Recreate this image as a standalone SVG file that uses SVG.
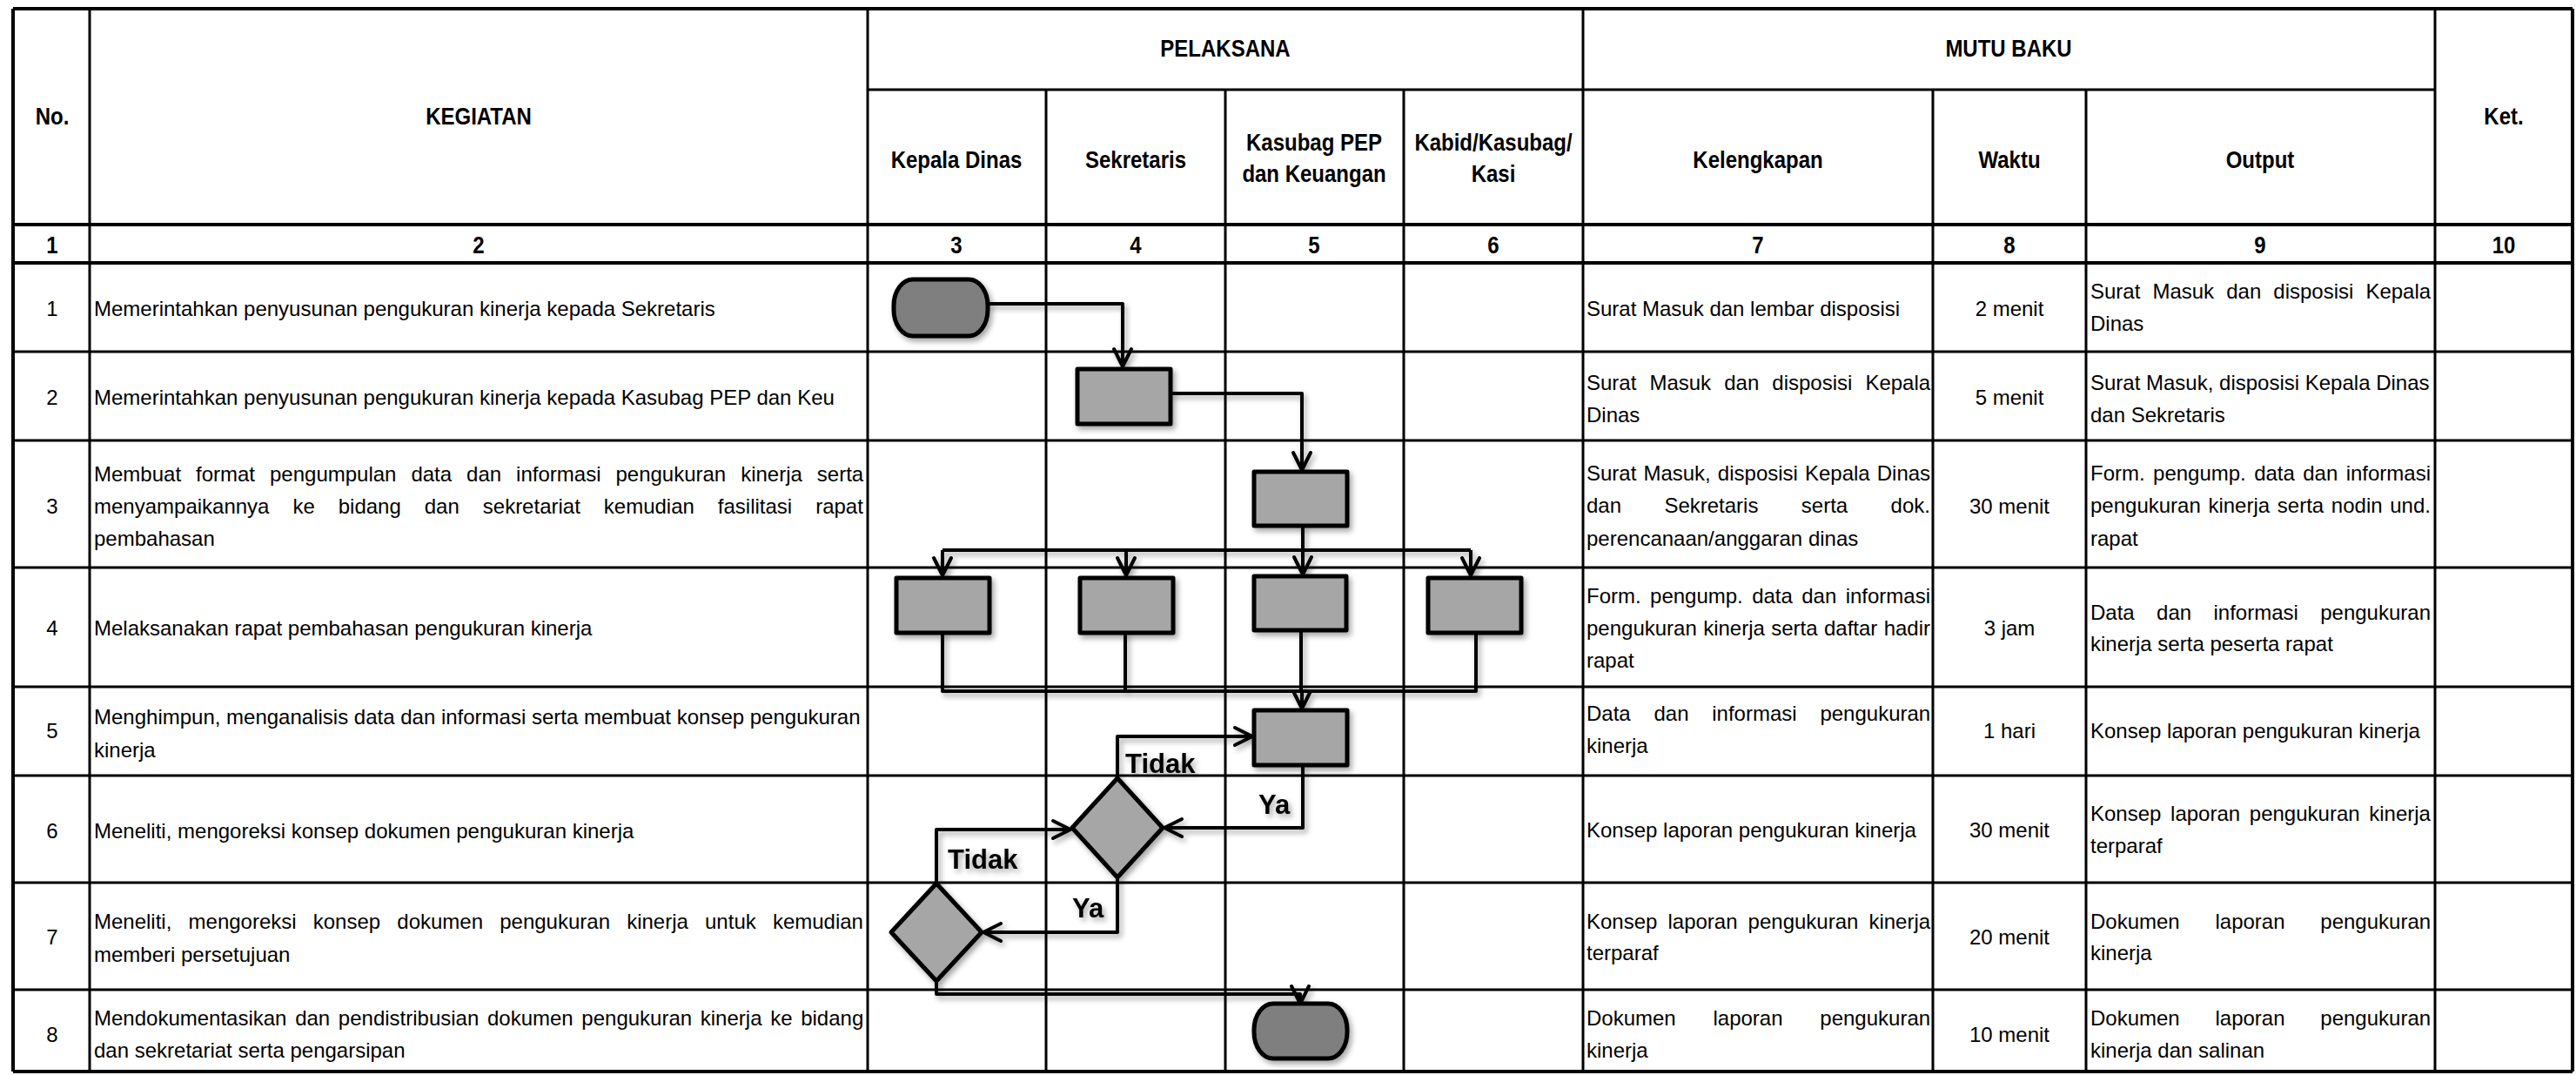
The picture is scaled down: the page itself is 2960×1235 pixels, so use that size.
<svg xmlns="http://www.w3.org/2000/svg" width="2960" height="1235" viewBox="0 0 2960 1235">
<defs>
<style>
.grid{stroke:#000;stroke-width:3;fill:none}
.thick{stroke:#000;stroke-width:4;fill:none}
.t{font-family:"Liberation Sans",Arial,sans-serif;font-size:24px;fill:#000}
.h{font-family:"Liberation Sans",Arial,sans-serif;font-size:28px;font-weight:bold;fill:#000;text-anchor:middle}
.c{text-anchor:middle}
.box{fill:#a6a6a6;stroke:#000;stroke-width:5;stroke-linejoin:round}
.term{fill:#7f7f7f;stroke:#000;stroke-width:5}
.conn{stroke:#000;stroke-width:4;fill:none;stroke-linejoin:round}
.arr{marker-end:url(#arr)}
.lbl{font-family:"Liberation Sans",Arial,sans-serif;font-size:31px;font-weight:bold;fill:#000}
</style>
<marker id="arr" viewBox="0 0 24 24" refX="22" refY="12" markerWidth="24" markerHeight="24" markerUnits="userSpaceOnUse" orient="auto" overflow="visible">
<path d="M2,2 L22,12 L2,22" fill="none" stroke="#000" stroke-width="4" stroke-linecap="round" stroke-linejoin="round"/>
</marker>
<filter id="sh" x="-20%" y="-20%" width="150%" height="150%">
<feDropShadow dx="3" dy="4" stdDeviation="3" flood-color="#000" flood-opacity="0.35"/>
</filter>
</defs>
<rect x="0" y="0" width="2960" height="1235" fill="#fff"/>

<g id="table-grid">
<path class="grid" d="M997 103H2798 M15 404H2956 M15 506H2956 M15 652H2956 M15 789H2956 M15 891H2956 M15 1014H2956 M15 1137H2956
M103 10V1231 M997 10V1231 M1202 103V1231 M1408 103V1231 M1613 103V1231 M1819 10V1231 M2221 103V1231 M2397 103V1231 M2798 10V1231"/>
<path class="thick" d="M15 10H2956 M15 258H2956 M15 302H2956 M15 1231H2956 M15 10V1231 M2956 10V1231"/>
</g>

<g id="table-header" class="h">
<text transform="translate(60,143) scale(0.857,1)">No.</text>
<text transform="translate(550,143) scale(0.857,1)">KEGIATAN</text>
<text transform="translate(1408,65) scale(0.857,1)">PELAKSANA</text>
<text transform="translate(2308,65) scale(0.857,1)">MUTU BAKU</text>
<text transform="translate(2877,143) scale(0.857,1)">Ket.</text>
<text transform="translate(1099,193) scale(0.857,1)">Kepala Dinas</text>
<text transform="translate(1305,193) scale(0.857,1)">Sekretaris</text>
<text transform="translate(1510,173) scale(0.857,1)">Kasubag PEP</text>
<text transform="translate(1510,209) scale(0.857,1)">dan Keuangan</text>
<text transform="translate(1716,173) scale(0.857,1)">Kabid/Kasubag/</text>
<text transform="translate(1716,209) scale(0.857,1)">Kasi</text>
<text transform="translate(2020,193) scale(0.857,1)">Kelengkapan</text>
<text transform="translate(2309,193) scale(0.857,1)">Waktu</text>
<text transform="translate(2597,193) scale(0.857,1)">Output</text>
<text transform="translate(60,291) scale(0.857,1)">1</text>
<text transform="translate(550,291) scale(0.857,1)">2</text>
<text transform="translate(1099,291) scale(0.857,1)">3</text>
<text transform="translate(1305,291) scale(0.857,1)">4</text>
<text transform="translate(1510,291) scale(0.857,1)">5</text>
<text transform="translate(1716,291) scale(0.857,1)">6</text>
<text transform="translate(2020,291) scale(0.857,1)">7</text>
<text transform="translate(2309,291) scale(0.857,1)">8</text>
<text transform="translate(2597,291) scale(0.857,1)">9</text>
<text transform="translate(2877,291) scale(0.857,1)">10</text>
</g>

<g id="col-no" class="t c">
<text x="60" y="363">1</text>
<text x="60" y="465">2</text>
<text x="60" y="590">3</text>
<text x="60" y="730">4</text>
<text x="60" y="848">5</text>
<text x="60" y="963">6</text>
<text x="60" y="1085">7</text>
<text x="60" y="1197">8</text>
</g>

<g id="col-kegiatan" class="t">
<text x="108" y="363">Memerintahkan penyusunan pengukuran kinerja kepada Sekretaris</text>
<text x="108" y="465">Memerintahkan penyusunan pengukuran kinerja kepada Kasubag PEP dan Keu</text>
<text x="108" y="553" style="word-spacing:10.3px">Membuat format pengumpulan data dan informasi pengukuran kinerja serta</text>
<text x="108" y="590" style="word-spacing:20.3px">menyampaikannya ke bidang dan sekretariat kemudian fasilitasi rapat</text>
<text x="108" y="627">pembahasan</text>
<text x="108" y="730">Melaksanakan rapat pembahasan pengukuran kinerja</text>
<text x="108" y="832">Menghimpun, menganalisis data dan informasi serta membuat konsep pengukuran</text>
<text x="108" y="870">kinerja</text>
<text x="108" y="963">Meneliti, mengoreksi konsep dokumen pengukuran kinerja</text>
<text x="108" y="1067" style="word-spacing:12.5px">Meneliti, mengoreksi konsep dokumen pengukuran kinerja untuk kemudian</text>
<text x="108" y="1105">memberi persetujuan</text>
<text x="108" y="1178" style="word-spacing:3px">Mendokumentasikan dan pendistribusian dokumen pengukuran kinerja ke bidang</text>
<text x="108" y="1215">dan sekretariat serta pengarsipan</text>
</g>

<g id="col-kelengkapan" class="t">
<text x="1823" y="363">Surat Masuk dan lembar disposisi</text>
<text x="1823" y="448" style="word-spacing:8.4px">Surat Masuk dan disposisi Kepala</text>
<text x="1823" y="485">Dinas</text>
<text x="1823" y="552" style="word-spacing:1.4px">Surat Masuk, disposisi Kepala Dinas</text>
<text x="1823" y="589" style="word-spacing:42.7px">dan Sekretaris serta dok.</text>
<text x="1823" y="627">perencanaan/anggaran dinas</text>
<text x="1823" y="693" style="word-spacing:3.7px">Form. pengump. data dan informasi</text>
<text x="1823" y="730" style="word-spacing:0.7px">pengukuran kinerja serta daftar hadir</text>
<text x="1823" y="767">rapat</text>
<text x="1823" y="828" style="word-spacing:20.1px">Data dan informasi pengukuran</text>
<text x="1823" y="865">kinerja</text>
<text x="1823" y="962">Konsep laporan pengukuran kinerja</text>
<text x="1823" y="1067" style="word-spacing:5.4px">Konsep laporan pengukuran kinerja</text>
<text x="1823" y="1103">terparaf</text>
<text x="1823" y="1178" style="word-spacing:36.1px">Dokumen laporan pengukuran</text>
<text x="1823" y="1215">kinerja</text>
</g>

<g id="col-waktu" class="t c">
<text x="2309" y="363">2 menit</text>
<text x="2309" y="465">5 menit</text>
<text x="2309" y="590">30 menit</text>
<text x="2309" y="730">3 jam</text>
<text x="2309" y="848">1 hari</text>
<text x="2309" y="962">30 menit</text>
<text x="2309" y="1085">20 menit</text>
<text x="2309" y="1197">10 menit</text>
</g>

<g id="col-output" class="t">
<text x="2402" y="343" style="word-spacing:7.4px">Surat Masuk dan disposisi Kepala</text>
<text x="2402" y="380">Dinas</text>
<text x="2402" y="448">Surat Masuk, disposisi Kepala Dinas</text>
<text x="2402" y="485">dan Sekretaris</text>
<text x="2402" y="552" style="word-spacing:2.7px">Form. pengump. data dan informasi</text>
<text x="2402" y="589" style="word-spacing:2px">pengukuran kinerja serta nodin und.</text>
<text x="2402" y="627">rapat</text>
<text x="2402" y="712" style="word-spacing:18.7px">Data dan informasi pengukuran</text>
<text x="2402" y="748">kinerja serta peserta rapat</text>
<text x="2402" y="848">Konsep laporan pengukuran kinerja</text>
<text x="2402" y="943" style="word-spacing:4px">Konsep laporan pengukuran kinerja</text>
<text x="2402" y="980">terparaf</text>
<text x="2402" y="1067" style="word-spacing:34.1px">Dokumen laporan pengukuran</text>
<text x="2402" y="1103">kinerja</text>
<text x="2402" y="1178" style="word-spacing:34.1px">Dokumen laporan pengukuran</text>
<text x="2402" y="1215">kinerja dan salinan</text>
</g>

<g id="connectors" filter="url(#sh)">
<path class="conn arr" d="M1135 349H1290V421"/>
<path class="conn arr" d="M1345 452H1496V540"/>
<path class="conn" d="M1497 604V632 M1083 632H1690"/>
<path class="conn arr" d="M1083 632V661"/>
<path class="conn arr" d="M1294 632V661"/>
<path class="conn arr" d="M1497 632V660"/>
<path class="conn arr" d="M1690 632V661"/>
<path class="conn" d="M1083 726V794H1696V726 M1293 726V794 M1495 724V794"/>
<path class="conn arr" d="M1496 794V814"/>
<path class="conn arr" d="M1497 879V951H1338"/>
<path class="conn arr" d="M1284 894V846H1439"/>
<path class="conn arr" d="M1076 1015V953H1230"/>
<path class="conn arr" d="M1284 1008V1071H1130"/>
<path class="conn arr" d="M1076 1127V1142H1494V1153"/>
<text class="lbl" x="1446" y="935">Ya</text>
<text class="lbl" x="1293" y="888">Tidak</text>
<text class="lbl" x="1089" y="998">Tidak</text>
<text class="lbl" x="1232" y="1054">Ya</text>
</g>

<g id="node-start" filter="url(#sh)"><rect class="term" x="1027" y="321" width="108" height="65" rx="22" ry="30"/></g>
<g id="node-2" filter="url(#sh)"><rect class="box" x="1238" y="424" width="107" height="63"/></g>
<g id="node-3" filter="url(#sh)"><rect class="box" x="1441" y="542" width="107" height="62"/></g>
<g id="node-4a" filter="url(#sh)"><rect class="box" x="1030" y="664" width="107" height="63"/></g>
<g id="node-4b" filter="url(#sh)"><rect class="box" x="1241" y="664" width="107" height="63"/></g>
<g id="node-4c" filter="url(#sh)"><rect class="box" x="1441" y="662" width="106" height="62"/></g>
<g id="node-4d" filter="url(#sh)"><rect class="box" x="1641" y="664" width="107" height="63"/></g>
<g id="node-5" filter="url(#sh)"><rect class="box" x="1441" y="816" width="107" height="63"/></g>
<g id="node-d1" filter="url(#sh)"><polygon class="box" points="1284,894 1336,951 1284,1008 1232,951"/></g>
<g id="node-d2" filter="url(#sh)"><polygon class="box" points="1076,1015 1128,1071 1076,1127 1024,1071"/></g>
<g id="node-end" filter="url(#sh)"><rect class="term" x="1441" y="1153" width="107" height="63" rx="22" ry="30"/></g>
</svg>
